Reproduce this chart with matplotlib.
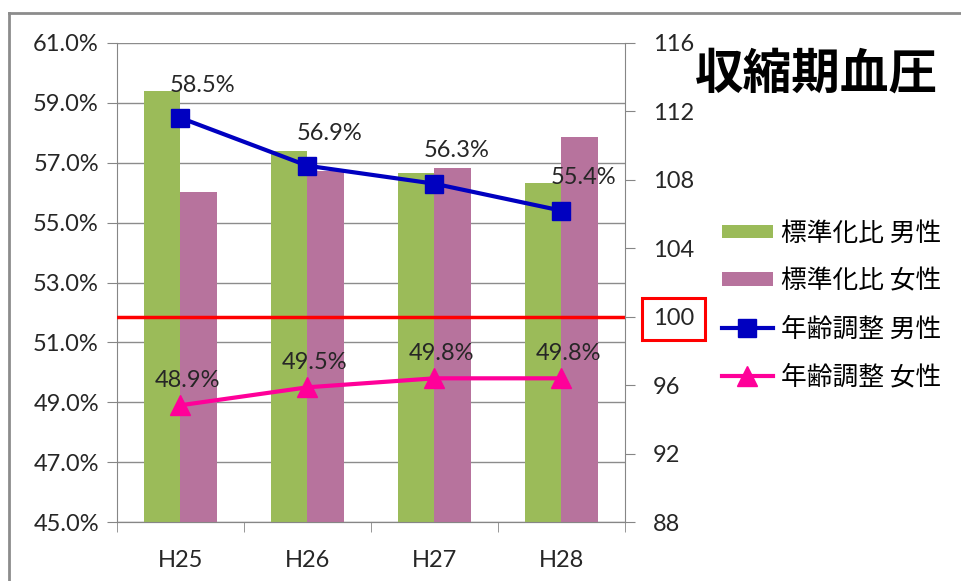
import matplotlib
matplotlib.use('Agg')
import matplotlib.pyplot as plt
import numpy as np
from matplotlib.lines import Line2D
from matplotlib.ticker import FuncFormatter

years = ['H25', 'H26', 'H27', 'H28']
# standardized ratio (right axis)
sr_male = [113.2, 109.7, 108.4, 107.8]
sr_female = [107.3, 108.5, 108.7, 110.5]
# age-adjusted rate (left axis, %)
adj_male = [58.5, 56.9, 56.3, 55.4]
adj_female = [48.9, 49.5, 49.8, 49.8]

jp = ['Noto Sans CJK JP', 'DejaVu Sans']
num_font = 'Lato'
tick_col = '#262626'
axis_col = '#868686'
fs = 17

fig = plt.figure(figsize=(9.62, 5.81), dpi=100)
ax = fig.add_axes([0.1216, 0.1015, 0.528, 0.8245])
x = np.arange(len(years))

# left axis: percent, with gridlines behind the bars
ax.set_ylim(45, 61)
ax.set_yticks(np.arange(45, 61.1, 2))
ax.yaxis.set_major_formatter(FuncFormatter(lambda v, p: f'{v:.1f}%'))
ax.grid(axis='y', color='#8c8c8c', linewidth=1)
ax.set_axisbelow(True)
ax.set_xlim(-0.5, 3.5)

# right axis: bars
ax2 = ax.twinx()
ax2.set_ylim(88, 116)
ax2.set_yticks(np.arange(88, 116.1, 4))
w = 0.29
ax2.bar(x - w / 2, sr_male, w, color='#9BBB59', label='標準化比 男性')
ax2.bar(x + w / 2, sr_female, w, color='#B7739D', label='標準化比 女性')
ax2.axhline(100, color='#FF0000', linewidth=2.5)

# lines on top
ax3 = ax.twinx()
ax3.set_ylim(45, 61)
ax3.set_axis_off()
ax3.plot(x, adj_male, color='#0000C0', linewidth=3, marker='s', markersize=13,
         label='年齢調整 男性')
ax3.plot(x, adj_female, color='#FF0099', linewidth=3, marker='^', markersize=14,
         label='年齢調整 女性')
for xi, v in zip(x, adj_male):
    ax3.annotate(f'{v:.1f}%', (xi, v), xytext=(16, 16), textcoords='offset points',
                 ha='center', va='bottom', fontsize=fs, family=num_font, color=tick_col)
for xi, v in zip(x, adj_female):
    ax3.annotate(f'{v:.1f}%', (xi, v), xytext=(5, 10), textcoords='offset points',
                 ha='center', va='bottom', fontsize=fs, family=num_font, color=tick_col)

# x axis: labels at centers, tick marks between categories
ax.set_xticks(x)
ax.set_xticklabels(years)
ax.set_xticks(np.arange(-0.5, 3.6, 1), minor=True)
ax.tick_params(axis='x', which='major', length=0, pad=20)
ax.tick_params(axis='x', which='minor', length=7, color=axis_col)
ax.tick_params(axis='y', length=7, color=axis_col, pad=6)
ax2.tick_params(axis='y', length=7, color=axis_col, pad=13)
for a in (ax, ax2):
    for lab in a.get_xticklabels() + a.get_yticklabels():
        lab.set_fontsize(fs)
        lab.set_family(num_font)
        lab.set_color(tick_col)
    for s in a.spines.values():
        s.set_color(axis_col)
    a.spines['top'].set_visible(False)
ax.spines['right'].set_visible(False)
ax2.spines['left'].set_visible(False)

# red box around the 100 label
fig.canvas.draw()
for lab in ax2.get_yticklabels():
    if lab.get_text() == '100':
        lab.set_bbox(dict(boxstyle='square,pad=0.45', facecolor='none',
                          edgecolor='#FF0000', linewidth=2.2))

fig.text(0.849, 0.872, '収縮期血圧', family=jp, fontsize=35, fontweight='bold',
         ha='center', va='center', color='black')

handles = [h for a in (ax2, ax3) for h in a.get_legend_handles_labels()[0]]
labels = [l for a in (ax2, ax3) for l in a.get_legend_handles_labels()[1]]
fig.legend(handles, labels, loc='upper left', bbox_to_anchor=(0.726, 0.66),
           frameon=False, prop={'family': jp, 'size': 18.5}, handlelength=2.0,
           handleheight=0.45, labelspacing=0.85, handletextpad=0.3)

# outer frame
fig.add_artist(Line2D([0.0094, 1.0], [0.9776, 0.9776], color='#8c8c8c', linewidth=2))
fig.add_artist(Line2D([0.0094, 0.0094], [0.0, 0.9776], color='#8c8c8c', linewidth=2))

fig.savefig('out.png', dpi=100)
